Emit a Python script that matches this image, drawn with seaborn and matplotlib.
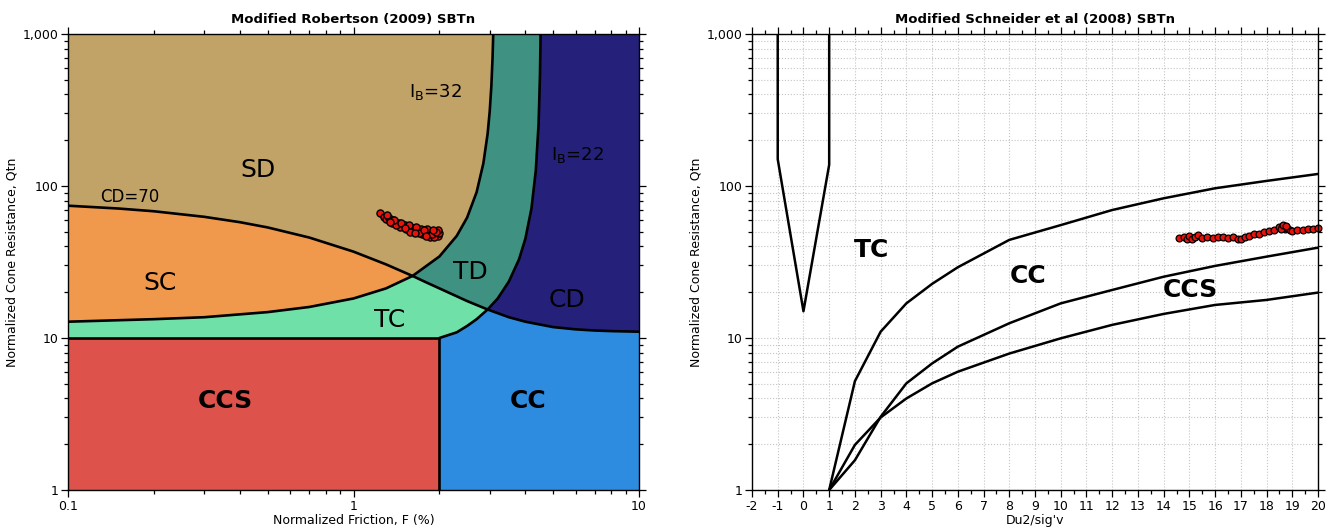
import matplotlib
matplotlib.use("Agg")
import matplotlib.pyplot as plt
import seaborn as sns
from matplotlib.ticker import LogLocator, NullFormatter, MultipleLocator

# ---------------- data: Robertson chart boundaries ----------------
cd70_F = [0.1, 0.15, 0.2, 0.3, 0.4, 0.5, 0.7, 1.0, 1.3, 1.61, 1.8, 2.0, 2.5, 2.95, 3.5, 4.0, 5.0, 6.0, 7.0, 8.0, 10.0]
cd70_Q = [74.2, 71.1, 68.2, 62.7, 57.8, 53.4, 45.8, 37.0, 30.5, 25.6, 23.2, 21.2, 17.5, 15.4, 13.7, 12.8, 11.8, 11.4, 11.2, 11.1, 11.0]

ib32_F = [0.1, 0.2, 0.3, 0.5, 0.7, 1.0, 1.3, 1.61, 2.0, 2.3, 2.5, 2.7, 2.85, 2.95, 3.0, 3.04, 3.07, 3.086]
ib32_Q = [12.8, 13.3, 13.7, 14.8, 16.0, 18.2, 21.2, 25.6, 34.4, 47.0, 62.0, 91.2, 141, 221, 310, 456, 705, 1000]

ib22_F = [2.0, 2.3, 2.5, 2.7, 2.95, 3.2, 3.5, 3.8, 4.0, 4.2, 4.35, 4.45, 4.5, 4.522]
ib22_Q = [10.0, 10.9, 12.0, 13.3, 15.4, 18.2, 23.5, 32.9, 45.0, 71.0, 126, 257, 540, 1000]

ccs_F = [0.1, 2.0]
ccs_Q = [1, 10]

# measured points (left chart)
pts_F = [1.24, 1.28, 1.30, 1.33, 1.35, 1.37, 1.40, 1.42, 1.44, 1.46, 1.48, 1.50, 1.52, 1.55, 1.57,
         1.60, 1.62, 1.65, 1.67, 1.70, 1.72, 1.75, 1.78, 1.80, 1.83, 1.86, 1.88, 1.91, 1.94, 1.97,
         2.00, 1.36, 1.45, 1.53, 1.63, 1.74, 1.85, 1.92, 1.98, 1.41, 1.58, 1.69, 1.81,
         1.31, 1.39, 1.47, 1.56, 1.66, 1.77, 1.89, 1.95, 1.34, 1.51, 1.64, 1.79, 1.90]
pts_Q = [66, 63, 61, 62, 59, 60, 58, 56, 57, 55, 56, 54, 55, 53, 54,
         52, 53, 51, 52, 50, 52, 49, 51, 50, 48, 50, 47, 49, 48, 47,
         49, 57, 54, 52, 50, 48, 46, 46, 51, 55, 50, 49, 52,
         64, 60, 57, 55, 54, 51, 48, 50, 58, 53, 49, 47, 51]

# ---------------- data: Schneider chart boundaries ----------------
v_x = [-1, -1, 0, 1, 1]
v_q = [1000, 150, 15, 138, 1000]
curve_x = [1, 2, 3, 4, 5, 6, 8, 10, 12, 14, 16, 18, 20]
a_q = [1, 5.2, 11.0, 16.9, 22.7, 29.2, 44.2, 55.3, 69.5, 83, 96.6, 108, 120]
b_q = [1, 1.57, 3.03, 5.03, 6.8, 8.77, 12.5, 16.9, 20.7, 25.3, 29.8, 34.3, 39.3]
c_q = [1, 1.98, 3.0, 4.0, 5.03, 6.0, 7.9, 9.95, 12.2, 14.4, 16.5, 17.8, 19.9]

pts2_x = [14.6, 14.8, 14.9, 15.0, 15.1, 15.2, 15.35, 15.5, 15.7, 15.9, 16.1, 16.3, 16.5, 16.7, 16.9,
          17.0, 17.15, 17.3, 17.5, 17.7, 17.9, 18.1, 18.3, 18.5, 18.6, 18.7, 18.8, 18.9, 19.0, 19.2,
          19.4, 19.6, 19.8, 20.0, 18.55, 18.65, 18.75]
pts2_q = [45.5, 46.5, 44.5, 47, 45, 46, 47.5, 45.5, 46, 45.5, 46, 46.5, 45.5, 46.5, 45,
          44.5, 46, 47, 48, 48.5, 49.5, 50.5, 51, 53.5, 54, 52, 53, 51, 50.5, 51,
          51.5, 52, 52.5, 53, 52, 55, 54.5]

x_ticks2 = list(range(-2, 21))
y_ticks = [1, 10, 100, 1000]
y_ticklabels = ["1", "10", "100", "1,000"]

# ---------------- style ----------------
sns.set_theme(style="ticks")
plt.rcParams['font.family'] = ['DejaVu Sans']
plt.rcParams['axes.unicode_minus'] = False
plt.rcParams['text.color'] = 'black'
plt.rcParams['axes.labelcolor'] = 'black'

c_sd = "#c1a267"
c_sc = "#f0994c"
c_tc = "#6ee0a8"
c_td = "#3f9182"
c_cd = "#25217a"
c_cc = "#2e8ce0"
c_ccs = "#dd524a"

fig = plt.figure(figsize=(13.32, 5.28), dpi=100)
ax1 = fig.add_axes([68/1332, 38/528, 571/1332, 456/528])
ax2 = fig.add_axes([752/1332, 38/528, 566/1332, 456/528])

# ---------------- left chart ----------------
ax1.set_xscale('log')
ax1.set_yscale('log')
ax1.set_xlim(0.1, 10)
ax1.set_ylim(1, 1000)
ax1.set_facecolor(c_cd)

i22 = ib22_F.index(2.95)
icd22 = cd70_F.index(2.95)
i32 = ib32_F.index(1.61)
icd32 = cd70_F.index(1.61)

# TD (left of IB=22)
ax1.fill(ib22_F + [0.1, 0.1, 2.0], ib22_Q + [1000, 1, 1], color=c_td, lw=0, zorder=1)
# SD (above IB=32)
ax1.fill(ib32_F + [0.1], ib32_Q + [1000], color=c_sd, lw=0, zorder=2)
# CC (below CD=70)
ax1.fill_between(cd70_F, [1] * len(cd70_F), cd70_Q, color=c_cc, lw=0, zorder=3)
# TC
ax1.fill([0.1] + ib22_F[:i22 + 1] + cd70_F[:icd22 + 1][::-1],
         [10] + ib22_Q[:i22 + 1] + cd70_Q[:icd22 + 1][::-1], color=c_tc, lw=0, zorder=4)
# SC
ax1.fill(ib32_F[:i32 + 1] + cd70_F[:icd32 + 1][::-1],
         ib32_Q[:i32 + 1] + cd70_Q[:icd32 + 1][::-1], color=c_sc, lw=0, zorder=5)
# CCS
ax1.fill([ccs_F[0], ccs_F[1], ccs_F[1], ccs_F[0]], [ccs_Q[0], ccs_Q[0], ccs_Q[1], ccs_Q[1]],
         color=c_ccs, lw=0, zorder=6)

lw_b = 1.9
for xs, ys in [(cd70_F, cd70_Q), (ib32_F, ib32_Q), (ib22_F, ib22_Q),
               ([ccs_F[0], ccs_F[1]], [ccs_Q[1], ccs_Q[1]]),
               ([ccs_F[1], ccs_F[1]], [ccs_Q[0], ccs_Q[1]])]:
    sns.lineplot(x=xs, y=ys, sort=False, estimator=None, color='black', lw=lw_b, ax=ax1, zorder=8)

sns.scatterplot(x=pts_F, y=pts_Q, ax=ax1, color='#e8120c', edgecolor='black', s=26,
                linewidth=1.0, zorder=10, legend=False)

lab_kw = dict(ha='center', va='center', color='black', zorder=12)
ax1.text(0.463, 127, "SD", fontsize=18, **lab_kw)
ax1.text(0.210, 23.0, "SC", fontsize=18, **lab_kw)
ax1.text(1.34, 13.1, "TC", fontsize=18, **lab_kw)
ax1.text(2.56, 27.2, "TD", fontsize=18, **lab_kw)
ax1.text(5.6, 17.8, "CD", fontsize=18, **lab_kw)
ax1.text(0.355, 3.85, "CCS", fontsize=18, fontweight='bold', **lab_kw)
ax1.text(4.08, 3.85, "CC", fontsize=18, fontweight='bold', **lab_kw)
ax1.text(0.165, 84.7, "CD=70", fontsize=12, **lab_kw)
ax1.text(1.93, 415, r"I$_{\mathrm{B}}$=32", fontsize=13, **lab_kw)
ax1.text(6.1, 160, r"I$_{\mathrm{B}}$=22", fontsize=13, **lab_kw)

ax1.set_xticks([0.1, 1, 10])
ax1.set_xticklabels(["0.1", "1", "10"])
ax1.xaxis.set_minor_locator(LogLocator(base=10, subs=range(2, 10)))
ax1.xaxis.set_minor_formatter(NullFormatter())
ax1.set_yticks(y_ticks)
ax1.set_yticklabels(y_ticklabels)
ax1.yaxis.set_minor_locator(LogLocator(base=10, subs=range(2, 10)))
ax1.yaxis.set_minor_formatter(NullFormatter())
ax1.set_xlabel("Normalized Friction, F (%)", fontsize=9, labelpad=1, color='black')
ax1.set_ylabel("Normalized Cone Resistance, Qtn", fontsize=9, labelpad=3, color='black')
ax1.set_title("Modified Robertson (2009) SBTn", fontsize=9.5, fontweight='bold', pad=8, color='black')

# ---------------- right chart ----------------
ax2.set_yscale('log')
ax2.set_xlim(-2, 20)
ax2.set_ylim(1, 1000)
ax2.set_facecolor('white')
ax2.set_xticks(x_ticks2)
ax2.set_xticklabels([str(v) for v in x_ticks2])
ax2.xaxis.set_minor_locator(MultipleLocator(0.5))
ax2.set_yticks(y_ticks)
ax2.set_yticklabels(y_ticklabels)
ax2.yaxis.set_minor_locator(LogLocator(base=10, subs=range(2, 10)))
ax2.yaxis.set_minor_formatter(NullFormatter())
ax2.grid(True, which='major', axis='x', color='#c4c4c4', linestyle=':', lw=0.8)
ax2.grid(True, which='both', axis='y', color='#c4c4c4', linestyle=':', lw=0.8)
ax2.set_axisbelow(True)

for ys, xs in [(v_q, v_x), (a_q, curve_x), (b_q, curve_x), (c_q, curve_x)]:
    sns.lineplot(x=xs, y=ys, sort=False, estimator=None, color='black', lw=1.8, ax=ax2, zorder=5)

sns.scatterplot(x=pts2_x, y=pts2_q, ax=ax2, color='#e8120c', edgecolor='black', s=24,
                linewidth=0.9, zorder=10, legend=False, clip_on=False)

ax2.text(2.66, 37.9, "TC", fontsize=18, fontweight='bold', **lab_kw)
ax2.text(8.73, 25.6, "CC", fontsize=18, fontweight='bold', **lab_kw)
ax2.text(15.02, 20.7, "CCS", fontsize=18, fontweight='bold', **lab_kw)

ax2.set_xlabel("Du2/sig'v", fontsize=9, labelpad=1, color='black')
ax2.set_ylabel("Normalized Cone Resistance, Qtn", fontsize=9, labelpad=3, color='black')
ax2.set_title("Modified Schneider et al (2008) SBTn", fontsize=9.5, fontweight='bold', pad=8, color='black')

for ax in (ax1, ax2):
    for s in ax.spines.values():
        s.set_color('black')
        s.set_linewidth(1.0)
        s.set_zorder(20)
    ax.tick_params(which='both', direction='out', top=True, right=True, colors='black',
                   labelsize=9, width=0.9, pad=2)
    ax.tick_params(which='major', length=5)
    ax.tick_params(which='minor', length=3)

fig.savefig("out.png", dpi=100)
